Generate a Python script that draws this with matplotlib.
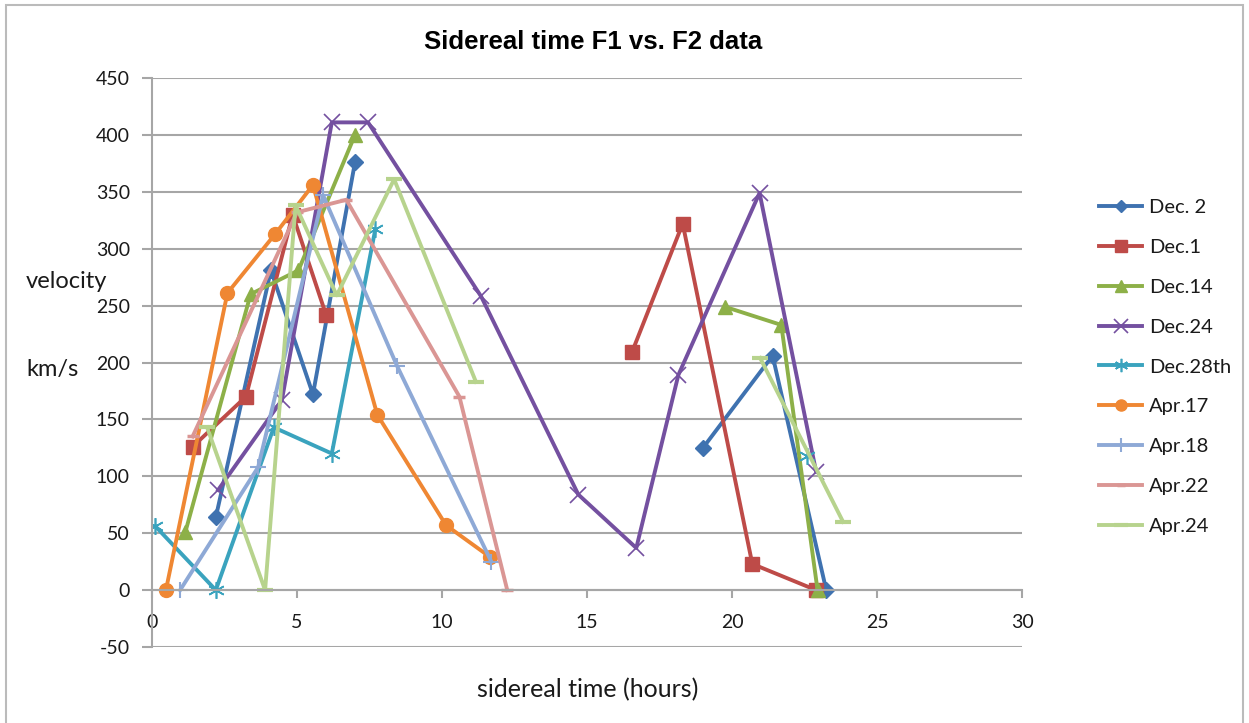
import numpy as np
import matplotlib
matplotlib.use("Agg")
import matplotlib.pyplot as plt

plt.rcParams["axes.unicode_minus"] = False
nan = np.nan

# ---- data (sidereal time in hours, velocity in km/s) ----
dec2_x = [2.2, 4.1, 5.55, 7.0, nan, 19.0, 21.4, 23.25]
dec2_y = [64, 281, 172, 376, nan, 125, 206, 0]

dec1_x = [1.4, 3.24, 4.85, 6.0, nan, 16.55, 18.3, 20.7, 22.9]
dec1_y = [126, 170, 330, 242, nan, 209, 322, 23, 0]

dec14_x = [1.15, 3.4, 5.05, 7.0, nan, 19.75, 21.7, 22.95]
dec14_y = [51, 260, 281, 400, nan, 249, 233, 0]

dec24_x = [2.28, 4.48, 6.2, 7.45, 11.35, 14.7, 16.7, 18.15, 20.95, 22.9]
dec24_y = [88, 167, 411, 411, 258, 84, 37, 189, 349, 104]

dec28_x = [0.12, 2.2, 4.2, 6.2, 7.7, nan, 22.6]
dec28_y = [56, 0, 143, 120, 317, nan, 118]

apr17_x = [0.48, 2.6, 4.25, 5.55, 7.77, 10.14, 11.66]
apr17_y = [0, 261, 313, 356, 154, 57, 29]

apr18_x = [0.97, 3.66, 5.9, 8.45, 11.7]
apr18_y = [0, 108, 347, 197, 25]

apr22_x = [1.4, 5.0, 6.7, 10.6, 12.25]
apr22_y = [135, 332, 343, 170, 0]

apr24_x = [1.9, 3.9, 4.95, 6.37, 8.35, 11.17, nan, 20.97, 23.83]
apr24_y = [143, 0, 338, 259, 361, 183, nan, 204, 60]

legend_labels = ["Dec. 2", "Dec.1", "Dec.14", "Dec.24", "Dec.28th",
                 "Apr.17", "Apr.18", "Apr.22", "Apr.24"]
xs = [dec2_x, dec1_x, dec14_x, dec24_x, dec28_x, apr17_x, apr18_x, apr22_x, apr24_x]
ys = [dec2_y, dec1_y, dec14_y, dec24_y, dec28_y, apr17_y, apr18_y, apr22_y, apr24_y]

x_ticks = [0, 5, 10, 15, 20, 25, 30]
y_ticks = [-50, 0, 50, 100, 150, 200, 250, 300, 350, 400, 450]

# ---- styles ----
colors = ["#3F72B0", "#BE4B48", "#8DB048", "#7450A0", "#3AA3BE",
          "#EF8733", "#8EA9D6", "#DA9694", "#B7D38D"]
markers = ["D", "s", "^", "x", (6, 2, 0), "o", "+", "_", "_"]
msizes = [8, 10, 10, 12, 12, 10, 12, 8, 12]
mews = [1, 1, 1, 1.2, 1.2, 1, 1.5, 2.5, 3]

W, H = 1249, 723
fig = plt.figure(figsize=(W / 100, H / 100), dpi=100)
fig.patch.set_facecolor("white")

L, R, T, B = 152, 1022, 78, 647
ax = fig.add_axes([L / W, 1 - B / H, (R - L) / W, (B - T) / H])

body_font = "Lato"
grid_c = "#A6A6A6"
txt_c = "#1A1A1A"

for x, y, c, m, ms, mew, lab in zip(xs, ys, colors, markers, msizes, mews, legend_labels):
    ax.plot(x, y, color=c, lw=2.8, marker=m, markersize=ms,
            markeredgewidth=mew, markeredgecolor=c, markerfacecolor=c,
            label=lab, solid_joinstyle="round")

ax.set_xlim(0, 30)
ax.set_ylim(-50, 450)
ax.set_xticks(x_ticks)
ax.set_yticks(y_ticks)
ax.yaxis.grid(True, color=grid_c, lw=1.5)
ax.set_axisbelow(True)

for s in ["top", "right"]:
    ax.spines[s].set_visible(False)
ax.spines["left"].set_color(grid_c)
ax.spines["left"].set_linewidth(1.5)
ax.spines["bottom"].set_position(("data", 0))
ax.spines["bottom"].set_color(grid_c)
ax.spines["bottom"].set_linewidth(1.5)

ax.tick_params(axis="y", length=7, width=1.5, color=grid_c, pad=9,
               labelsize=14, labelcolor=txt_c)
ax.tick_params(axis="x", length=6, width=1.5, color=grid_c, pad=11,
               labelsize=14, labelcolor=txt_c)
for t in ax.get_xticklabels() + ax.get_yticklabels():
    t.set_fontfamily(body_font)

fig.text(593 / W, 1 - 42 / H, "Sidereal time F1 vs. F2 data", ha="center",
         va="center", fontsize=18.5, fontweight="bold", family="Liberation Sans")
fig.text(26 / W, 1 - 282 / H, "velocity", ha="left", va="center",
         fontsize=17, family=body_font, color=txt_c)
fig.text(26 / W, 1 - 370 / H, "km/s", ha="left", va="center",
         fontsize=17, family=body_font, color=txt_c)
fig.text(588 / W, 1 - 690 / H, "sidereal time (hours)", ha="center",
         va="center", fontsize=18, family=body_font, color=txt_c)

leg = fig.legend(loc="upper left", bbox_to_anchor=(1099 / W, 1 - 199 / H),
                 frameon=False, prop={"family": body_font, "size": 14.5},
                 handlelength=2.15, labelspacing=1.13, handletextpad=0.35,
                 borderpad=0, borderaxespad=0, markerscale=0.8)
for t in leg.get_texts():
    t.set_color(txt_c)

# outer chart frame
frame = plt.Rectangle((6 / W, -0.01), (1243 - 6) / W, 1 - 5 / H + 0.01,
                      transform=fig.transFigure, fill=False,
                      edgecolor="#BBBBBB", lw=1.5)
fig.add_artist(frame)

fig.savefig("out.png", dpi=100, facecolor="white")
